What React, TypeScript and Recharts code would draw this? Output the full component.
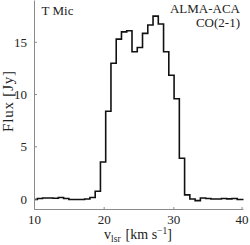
import { Line, LineChart, XAxis, YAxis } from "recharts"

// channel centres [km/s] and flux [Jy]
const velocity = [
    9.27, 10.03, 10.78, 11.54, 12.29, 13.05, 13.8, 14.56, 15.31, 16.07, 16.82, 17.58,
    18.33, 19.09, 19.84, 20.6, 21.35, 22.11, 22.86, 23.62, 24.37, 25.13, 25.88, 26.64,
    27.39, 28.15, 28.9, 29.66, 30.41, 31.17, 31.92, 32.68, 33.43, 34.19, 34.94, 35.7,
    36.45, 37.21, 37.96, 38.72, 39.47, 40.23,
]
const flux = [
    -0.08, -0.05, 0.05, 0.1, 0.1, 0.08, 0.15, 0.05, -0.05, -0.05, -0.05, 0.0,
    0.15, 0.75, 3.55, 8.4, 13.0, 15.3, 16.0, 16.1, 14.1, 14.5, 15.85, 16.65,
    17.5, 16.75, 14.1, 11.85, 9.6, 3.9, 0.4, 0.0, -0.15, 0.1, 0.05, 0.0,
    0.0, 0.05, 0.02, 0.05, -0.05, -0.05,
]
const xTicks = [10, 20, 30, 40]
const yTicks = [0, 5, 10, 15]

const data = velocity.map((v, i) => ({ v, flux: flux[i] }))

const FONT = "'Liberation Serif', 'Times New Roman', serif"
const GRAY = "#8a8a8a"
const TICK = 2.5

const BottomTick = ({ x, y, payload }: any) => (
    <g>
        <line x1={x} x2={x} y1={y} y2={y - TICK} stroke={GRAY} />
        <text x={x} y={y + 14.5} textAnchor="middle" fontSize={13} fontFamily={FONT} fill="#222">
            {payload.value}
        </text>
    </g>
)
const TopTick = ({ x, y }: any) => <line x1={x} x2={x} y1={y} y2={y + TICK} stroke={GRAY} />
const LeftTick = ({ x, y, payload }: any) => (
    <g>
        <line x1={x} x2={x + TICK} y1={y} y2={y} stroke={GRAY} />
        <text x={x - 7.5} y={y + 4.5} textAnchor="end" fontSize={13} fontFamily={FONT} fill="#222">
            {payload.value}
        </text>
    </g>
)
const RightTick = ({ x, y }: any) => <line x1={x} x2={x - TICK} y1={y} y2={y} stroke={GRAY} />

export default function App() {
    return (
        <div style={{ position: "absolute", left: 0, top: 0, width: 250, height: 245, background: "#fff" }}>
            <LineChart width={250} height={245} data={data} margin={{ top: 0.5, right: 6.5, bottom: 0, left: 0 }}>
                <XAxis
                    dataKey="v"
                    type="number"
                    domain={[10, 40]}
                    ticks={xTicks}
                    allowDataOverflow
                    height={35.5}
                    tickSize={0}
                    tickMargin={0}
                    tickLine={false}
                    axisLine={{ stroke: GRAY }}
                    tick={<BottomTick />}
                />
                <XAxis
                    xAxisId="top"
                    orientation="top"
                    dataKey="v"
                    type="number"
                    domain={[10, 40]}
                    ticks={xTicks}
                    allowDataOverflow
                    height={0}
                    tickSize={0}
                    tickMargin={0}
                    tickLine={false}
                    axisLine={{ stroke: GRAY }}
                    tick={<TopTick />}
                />
                <YAxis
                    type="number"
                    domain={[-1, 19]}
                    ticks={yTicks}
                    allowDataOverflow
                    width={34.5}
                    tickSize={0}
                    tickMargin={0}
                    tickLine={false}
                    axisLine={{ stroke: GRAY }}
                    tick={<LeftTick />}
                />
                <YAxis
                    yAxisId="right"
                    orientation="right"
                    type="number"
                    domain={[-1, 19]}
                    ticks={yTicks}
                    allowDataOverflow
                    width={0}
                    tickSize={0}
                    tickMargin={0}
                    tickLine={false}
                    axisLine={{ stroke: GRAY }}
                    tick={<RightTick />}
                />
                <Line
                    type="step"
                    dataKey="flux"
                    stroke="#111"
                    strokeWidth={1.6}
                    dot={false}
                    isAnimationActive={false}
                />
            </LineChart>
            <svg
                width={250}
                height={245}
                style={{ position: "absolute", left: 0, top: 0, pointerEvents: "none" }}
                fontFamily={FONT}
                fill="#222"
            >
                <text x={41.5} y={15} fontSize={13}>T Mic</text>
                <text x={240} y={13} fontSize={13} textAnchor="end">ALMA-ACA</text>
                <text x={240} y={26.5} fontSize={13} textAnchor="end">CO(2-1)</text>
                <text transform="rotate(-90)" x={-101} y={12.5} fontSize={15} letterSpacing={0.8} textAnchor="middle">
                    Flux [Jy]
                </text>
                <text x={138} y={239} fontSize={14} textAnchor="middle">
                    <tspan>v</tspan>
                    <tspan fontSize={9.5} dy={2.5}>lsr</tspan>
                    <tspan dx={5} dy={-2.5}>[km s</tspan>
                    <tspan fontSize={9.5} dy={-5.5}>−1</tspan>
                    <tspan dy={5.5}>]</tspan>
                </text>
            </svg>
        </div>
    )
}
